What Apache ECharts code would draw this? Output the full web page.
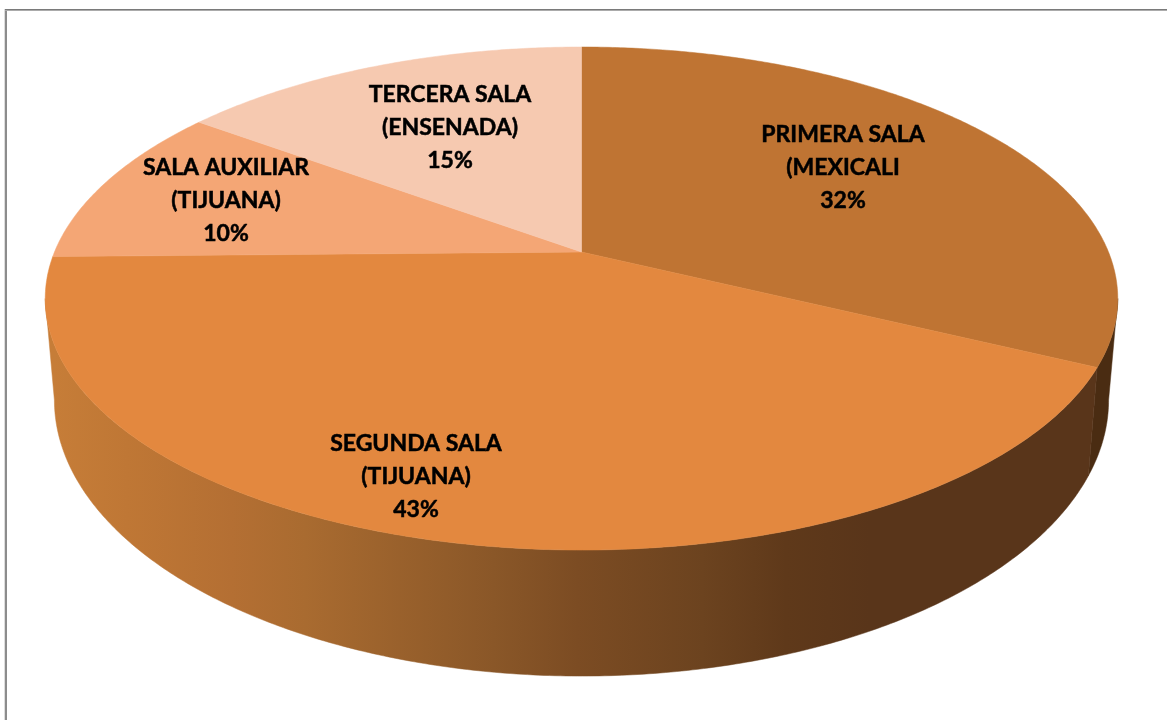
<!DOCTYPE html>
<html>
<head>
<meta charset="utf-8">
<style>html,body{margin:0;padding:0;background:#fff}#c{width:1167px;height:720px}</style>
<script src="https://cdn.jsdelivr.net/npm/echarts@6/dist/echarts.min.js"></script>
</head>
<body>
<div id="c"></div>
<script>
const categories = ['PRIMERA SALA\n(MEXICALI', 'SEGUNDA SALA\n(TIJUANA)', 'SALA AUXILIAR\n(TIJUANA)', 'TERCERA SALA\n(ENSENADA)'];
const values = [32.2, 42.5, 10.4, 14.9];
const topColors = ['#BF7433', '#E3883F', '#F4A675', '#F6C9B0'];
const labelCenters = [[843, 168], [416, 477], [226, 201], [450, 128]];

// Perspective projection of the pie disc: top face and base of the cylinder
const K = -0.185;
const TOP = { x0: 581.5, y0: 252, A: 527, B: 196.3 };
const BASE = { x0: 581.5, y0: 349, A: 518, B: 202 };
const total = values.reduce((a, b) => a + b, 0);

function project(face, deg) {
  const t = deg * Math.PI / 180, u = Math.sin(t), v = -Math.cos(t), w = 1 + K * v;
  return [face.x0 + face.A * u / w, (face.y0 + face.B * v) / w];
}
function sliceRange(i) {
  let s = 0;
  for (let j = 0; j < i; j++) s += values[j];
  return [s / total * 360, (s + values[i]) / total * 360];
}
function arc(face, a, b) {
  const n = Math.max(2, Math.ceil(Math.abs(b - a) * 2)), pts = [];
  for (let i = 0; i <= n; i++) pts.push(project(face, a + (b - a) * i / n));
  return pts;
}
const visFrom = Math.acos(K) * 180 / Math.PI;   // silhouette tangents of the side wall
const visTo = 360 - visFrom;

const segundaSide = new echarts.graphic.LinearGradient(54, 0, 1100, 0, [
  { offset: 0, color: '#C67D38' },
  { offset: 0.07, color: '#BF7735' },
  { offset: 0.17, color: '#B46F33' },
  { offset: 0.24, color: '#A96B30' },
  { offset: 0.42, color: '#8A5728' },
  { offset: 0.50, color: '#7C4C23' },
  { offset: 0.62, color: '#6C431F' },
  { offset: 0.70, color: '#5F391A' },
  { offset: 0.78, color: '#59351A' },
  { offset: 1, color: '#59351A' }
], true);
const sideFills = ['#4A2C12', segundaSide, '#59351A', '#59351A'];

const sideSeries = {
  type: 'custom', coordinateSystem: 'none', silent: true, animation: false, z: 1,
  data: values,
  renderItem: function (params) {
    const r = sliceRange(params.dataIndex);
    const a = Math.max(r[0], visFrom), b = Math.min(r[1], visTo);
    if (b <= a) return { type: 'group', children: [] };
    const pts = arc(TOP, a, b).concat(arc(BASE, b, a));
    const fill = sideFills[params.dataIndex];
    return { type: 'polygon', shape: { points: pts }, style: { fill: fill, stroke: fill, lineWidth: 0.5 } };
  }
};
const topSeries = {
  type: 'custom', coordinateSystem: 'none', silent: true, animation: false, z: 2,
  data: values,
  renderItem: function (params) {
    const r = sliceRange(params.dataIndex);
    const pts = [[TOP.x0, TOP.y0]].concat(arc(TOP, r[0], r[1]));
    const fill = topColors[params.dataIndex];
    return { type: 'polygon', shape: { points: pts }, style: { fill: fill, stroke: fill, lineWidth: 0.5 } };
  }
};
const labelSeries = {
  type: 'custom', coordinateSystem: 'none', silent: true, animation: false, z: 3,
  data: values,
  renderItem: function (params, api) {
    const i = params.dataIndex, c = labelCenters[i];
    return {
      type: 'text',
      style: {
        x: c[0], y: c[1],
        text: categories[i] + '\n' + Math.round(api.value(0)) + '%',
        fill: '#000', stroke: '#000', lineWidth: 0.5, align: 'center', verticalAlign: 'middle',
        font: 'bold 23px Lato', lineHeight: 33
      }
    };
  }
};

function band(x, y, w, h, color) {
  return { type: 'rect', silent: true, z: 0, shape: { x: x, y: y, width: w, height: h }, style: { fill: color } };
}

const chart = echarts.init(document.getElementById('c'), null, { renderer: 'canvas' });
chart.setOption({
  backgroundColor: '#ffffff',
  animation: false,
  graphic: [
    band(4, 9, 1, 711, '#DDDDDD'),
    band(5, 9, 2, 711, '#8C8C8C'),
    band(5, 9, 1162, 1, '#7A7A7A'),
    band(5, 10, 1162, 1, '#ABABAB')
  ],
  series: [sideSeries, topSeries, labelSeries]
});
</script>
</body>
</html>
